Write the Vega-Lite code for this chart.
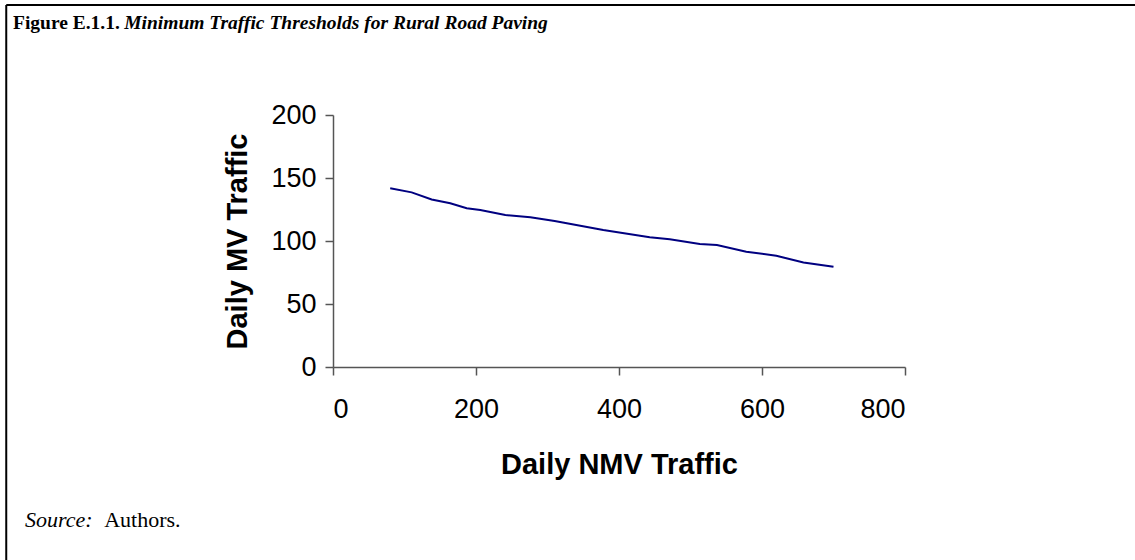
{
  "$schema": "https://vega.github.io/schema/vega-lite/v6.json",
  "width": 572,
  "height": 252,
  "autosize": {"type": "none"},
  "padding": {"left": 333, "top": 115, "right": 230, "bottom": 193},
  "background": "white",
  "config": {
    "view": {"stroke": null},
    "axis": {"grid": false, "labelFont": "Liberation Sans", "titleFont": "Liberation Sans", "labelFontSize": 27, "titleFontSize": 29, "labelColor": "black", "titleColor": "black", "domainColor": "#555555", "tickColor": "#555555", "tickSize": 8, "domainWidth": 1.5, "tickWidth": 1.5, "titleFontWeight": "bold", "labelFontWeight": "normal"}
  },
  "layer": [
    {
      "data": {"values": [{}]},
      "mark": {"type": "rule", "color": "black", "strokeWidth": 2},
      "encoding": {
        "x": {"datum": -457},
        "x2": {"datum": 1125},
        "y": {"datum": 287.3}
      }
    },
    {
      "data": {"values": [{}]},
      "mark": {"type": "rule", "color": "black", "strokeWidth": 2},
      "encoding": {
        "x": {"datum": -457},
        "y": {"datum": 287.3},
        "y2": {"datum": -160}
      }
    },
    {
      "data": {"values": [
        {"nmv": 80, "mv": 141.8},
        {"nmv": 110, "mv": 138.6},
        {"nmv": 138, "mv": 133},
        {"nmv": 164, "mv": 130},
        {"nmv": 187, "mv": 126},
        {"nmv": 206, "mv": 124.6},
        {"nmv": 241, "mv": 120.6},
        {"nmv": 276, "mv": 118.8},
        {"nmv": 310, "mv": 115.8},
        {"nmv": 378, "mv": 108.7},
        {"nmv": 443, "mv": 102.9},
        {"nmv": 471, "mv": 101.3},
        {"nmv": 513, "mv": 97.6},
        {"nmv": 537, "mv": 96.8},
        {"nmv": 578, "mv": 91.5},
        {"nmv": 620, "mv": 88.3},
        {"nmv": 658, "mv": 83},
        {"nmv": 700, "mv": 79.6}
      ]},
      "mark": {"type": "line", "color": "#000080", "strokeWidth": 2},
      "encoding": {
        "x": {"field": "nmv", "type": "quantitative", "scale": {"domain": [0, 800], "nice": false, "zero": false},
          "axis": {"values": [0, 200, 400, 600, 800], "title": "Daily NMV Traffic", "labelPadding": 21, "titlePadding": 28}},
        "y": {"field": "mv", "type": "quantitative", "scale": {"domain": [0, 200], "nice": false, "zero": false},
          "axis": {"values": [0, 50, 100, 150, 200], "title": "Daily MV Traffic", "labelPadding": 9, "titlePadding": 18}}
      }
    },
    {
      "data": {"values": [{}]},
      "mark": {"type": "text", "text": "Figure E.1.1.", "font": "Liberation Serif", "fontSize": 19.5, "fontWeight": "bold", "align": "left", "baseline": "alphabetic", "color": "black"},
      "encoding": {"x": {"datum": -447.6}, "y": {"datum": 268.3}}
    },
    {
      "data": {"values": [{}]},
      "mark": {"type": "text", "text": "Minimum Traffic Thresholds for Rural Road Paving", "font": "Liberation Serif", "fontSize": 19.5, "fontWeight": "bold", "fontStyle": "italic", "align": "left", "baseline": "alphabetic", "color": "black"},
      "encoding": {"x": {"datum": -292}, "y": {"datum": 268.3}}
    },
    {
      "data": {"values": [{}]},
      "mark": {"type": "text", "text": "Source:", "font": "Liberation Serif", "fontSize": 22, "fontStyle": "italic", "align": "left", "baseline": "alphabetic", "color": "black"},
      "encoding": {"x": {"datum": -430.8}, "y": {"datum": -127}}
    },
    {
      "data": {"values": [{}]},
      "mark": {"type": "text", "text": "Authors.", "font": "Liberation Serif", "fontSize": 22, "align": "left", "baseline": "alphabetic", "color": "black"},
      "encoding": {"x": {"datum": -320}, "y": {"datum": -127}}
    }
  ]
}
